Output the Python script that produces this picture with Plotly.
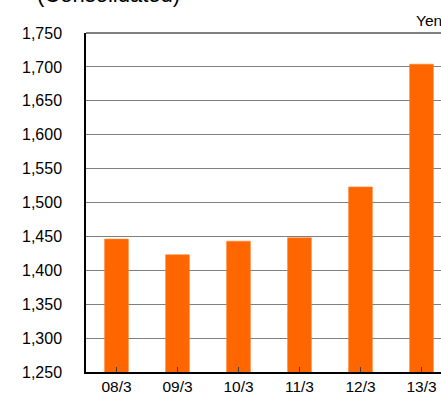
import plotly.graph_objects as go

categories = ["08/3", "09/3", "10/3", "11/3", "12/3", "13/3"]
values = [1446, 1423, 1443, 1448, 1523, 1704]
y_ticks = list(range(1250, 1751, 50))

W, H = 441, 396
ML, MR, MT, MB = 86, 0, 33, 24
PH = H - MT - MB

def ypaper(pix):
    return (H - MB - pix) / PH

fig = go.Figure()
fig.add_trace(go.Bar(
    x=list(range(len(categories))), y=values,
    marker=dict(color="#FF6600", line=dict(color="#FF8533", width=0.6)),
    width=0.39,
))

fig.update_layout(
    width=W, height=H,
    margin=dict(l=ML, r=MR, t=MT, b=MB, pad=0),
    paper_bgcolor="white", plot_bgcolor="white",
    showlegend=False,
    font=dict(family="Liberation Sans, Arial, sans-serif", color="#000000"),
    xaxis=dict(
        range=[-0.5, 5.32],
        tickmode="array", tickvals=list(range(len(categories))), ticktext=categories,
        ticks="inside", tickson="boundaries", ticklen=5, tickcolor="#404040", tickwidth=1,
        showline=True, linecolor="#000000", linewidth=1.5,
        showgrid=False, zeroline=False,
        tickfont=dict(size=15.5),
    ),
    yaxis=dict(
        range=[1250, 1750],
        tickmode="array", tickvals=y_ticks, ticktext=[f"{v:,}" for v in y_ticks],
        showline=True, linecolor="#000000", linewidth=1.5,
        showgrid=True, gridcolor="#808080", gridwidth=1,
        zeroline=False, ticks="", ticklabelstandoff=19,
        tickfont=dict(size=16),
    ),
    annotations=[
        dict(text="Yen", xref="paper", yref="paper", x=1.0, y=ypaper(20),
             xanchor="right", yanchor="middle", showarrow=False, xshift=3,
             font=dict(size=15.5)),
        dict(text="(Consolidated)", xref="paper", yref="paper",
             x=(35 - ML) / (W - ML - MR), y=ypaper(-6),
             xanchor="left", yanchor="middle", showarrow=False,
             font=dict(size=22)),
    ],
    shapes=[
        dict(type="line", xref="paper", yref="paper", x0=0, x1=1, y0=1, y1=1,
             line=dict(color="#808080", width=2)),
    ],
)

fig.write_html("out.html")
